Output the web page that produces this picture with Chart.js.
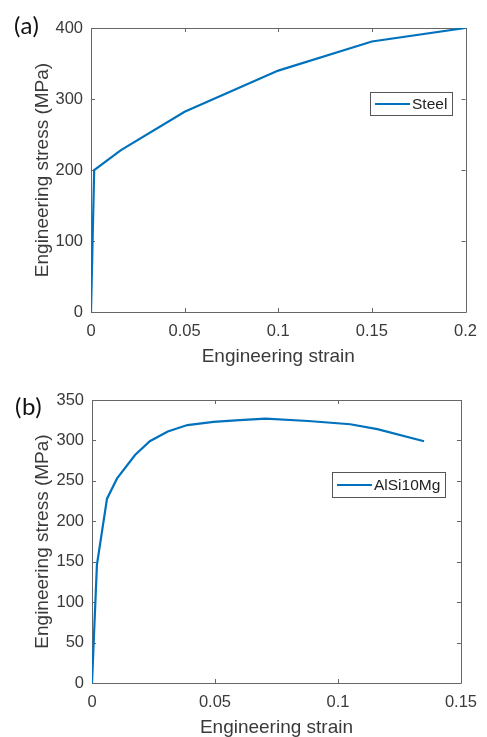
<!DOCTYPE html>
<html>
<head>
<meta charset="utf-8">
<script src="https://cdn.jsdelivr.net/npm/chart.js@4.4.1/dist/chart.umd.min.js"></script>
<style>
  html, body { margin: 0; padding: 0; background: #fff; overflow: hidden; }
  body { width: 487px; height: 737px; position: relative; }
  .panel { position: absolute; left: 0; width: 487px; }
  .tag { position: absolute; font-family: Lato, "Noto Sans", sans-serif; font-size: 24px; line-height: 1; color: #111; letter-spacing: 0.5px; }
</style>
</head>
<body>
<div class="panel" style="top:0"><canvas id="chartA" width="487" height="370"></canvas></div>
<div class="panel" style="top:370px"><canvas id="chartB" width="487" height="371"></canvas></div>
<div class="tag" style="left:14px; top:13px">(a)</div>
<div class="tag" style="left:15px; top:394px">(b)</div>
<script>
// (a) steel
const steelStrain = [0, 0.0017, 0.016, 0.05, 0.1, 0.15, 0.2];
const steelStress = [0, 200, 228, 282, 340, 381, 400];
const steelXTicks = [0, 0.05, 0.1, 0.15, 0.2];
const steelYTicks = [0, 100, 200, 300, 400];

// (b) AlSi10Mg
const alStrain = [0, 0.002, 0.0061, 0.0102, 0.0175, 0.0235, 0.0308, 0.0388, 0.0494, 0.060, 0.0706, 0.0879, 0.105, 0.116, 0.135];
const alStress = [0, 146, 228, 253, 282, 299, 311, 319, 323, 325, 327, 324, 320, 314, 299];
const alXTicks = [0, 0.05, 0.1, 0.15];
const alYTicks = [0, 50, 100, 150, 200, 250, 300, 350];

const FONT = '"Liberation Sans", Arial, sans-serif';
const TEXT = '#3a3a3a';
const AXIS = '#666';
const BLUE = '#0072BD';

const fmt = v => String(parseFloat(Number(v).toFixed(4)));

// box round the plot with inward ticks on all four sides
const matlabAxes = {
  id: 'matlabAxes',
  beforeDatasetsDraw(chart) {
    const { ctx, chartArea: a, scales: { x, y } } = chart;
    const tl = 4;
    ctx.save();
    ctx.strokeStyle = AXIS;
    ctx.lineWidth = 1;
    ctx.beginPath();
    ctx.rect(Math.round(a.left) + 0.5, Math.round(a.top) + 0.5,
             Math.round(a.right - a.left), Math.round(a.bottom - a.top));
    x.ticks.forEach(t => {
      const px = Math.round(x.getPixelForValue(t.value)) + 0.5;
      ctx.moveTo(px, a.bottom); ctx.lineTo(px, a.bottom - tl);
      ctx.moveTo(px, a.top); ctx.lineTo(px, a.top + tl);
    });
    y.ticks.forEach(t => {
      const py = Math.round(y.getPixelForValue(t.value)) + 0.5;
      ctx.moveTo(a.left, py); ctx.lineTo(a.left + tl, py);
      ctx.moveTo(a.right, py); ctx.lineTo(a.right - tl, py);
    });
    ctx.stroke();
    ctx.restore();
  }
};

// legend box inside the plot, top right
const boxLegend = {
  id: 'boxLegend',
  afterDraw(chart, args, opts) {
    const { ctx, chartArea: a } = chart;
    const ds = chart.data.datasets[0];
    ctx.save();
    ctx.font = '15.5px ' + FONT;
    const tw = ctx.measureText(ds.label).width;
    const w = Math.round(5 + 35 + 2 + tw + 5), h = opts.h;
    const x0 = Math.round(a.right - opts.rightGap - w);
    const y0 = Math.round(a.top + opts.topGap);
    ctx.fillStyle = '#fff';
    ctx.fillRect(x0, y0, w, h);
    ctx.strokeStyle = '#555';
    ctx.lineWidth = 1;
    ctx.strokeRect(x0 + 0.5, y0 + 0.5, w, h);
    ctx.strokeStyle = ds.borderColor;
    ctx.lineWidth = 2;
    ctx.beginPath();
    ctx.moveTo(x0 + 5, y0 + h / 2 + 0.5);
    ctx.lineTo(x0 + 40, y0 + h / 2 + 0.5);
    ctx.stroke();
    ctx.fillStyle = '#222';
    ctx.textBaseline = 'middle';
    ctx.fillText(ds.label, x0 + 42, y0 + h / 2 + 1);
    ctx.restore();
  }
};

function buildChart(id, strain, stress, label, xTicks, yTicks, lay, leg) {
  return new Chart(document.getElementById(id), {
    type: 'line',
    data: {
      datasets: [{
        label: label,
        data: strain.map((x, i) => ({ x: x, y: stress[i] })),
        borderColor: BLUE,
        borderWidth: 2.2,
        pointRadius: 0,
        tension: 0,
        fill: false
      }]
    },
    options: {
      responsive: false,
      animation: false,
      layout: { padding: { top: lay.top, right: lay.right, left: 0, bottom: 0 } },
      plugins: {
        legend: { display: false },
        tooltip: { enabled: false },
        boxLegend: leg
      },
      scales: {
        x: {
          type: 'linear',
          min: xTicks[0],
          max: xTicks[xTicks.length - 1],
          grid: { display: false, drawTicks: false, tickLength: 0 },
          border: { display: false },
          afterBuildTicks: s => { s.ticks = xTicks.map(v => ({ value: v })); },
          afterFit: s => { s.height = lay.xH; },
          ticks: { color: TEXT, padding: 10, maxRotation: 0, autoSkip: false,
                   font: { family: FONT, size: 16.5 }, callback: fmt },
          title: { display: true, text: 'Engineering strain', color: TEXT,
                   font: { family: FONT, size: 19 }, padding: { top: 0, bottom: 2 } }
        },
        y: {
          type: 'linear',
          min: yTicks[0],
          max: yTicks[yTicks.length - 1],
          grid: { display: false, drawTicks: false, tickLength: 0 },
          border: { display: false },
          afterBuildTicks: s => { s.ticks = yTicks.map(v => ({ value: v })); },
          afterFit: s => { s.width = lay.yW; },
          ticks: { color: TEXT, padding: 8, autoSkip: false,
                   font: { family: FONT, size: 16.5 }, callback: fmt },
          title: { display: true, text: 'Engineering stress (MPa)', color: TEXT,
                   font: { family: FONT, size: 19 }, padding: { top: 31, bottom: 0 } }
        }
      }
    },
    plugins: [matlabAxes, boxLegend]
  });
}

buildChart('chartA', steelStrain, steelStress, 'Steel', steelXTicks, steelYTicks,
  { top: 28, right: 19, xH: 58, yW: 91 },
  { rightGap: 14, topGap: 64, h: 23 });

buildChart('chartB', alStrain, alStress, 'AlSi10Mg', alXTicks, alYTicks,
  { top: 30, right: 18, xH: 58, yW: 92 },
  { rightGap: 16, topGap: 72, h: 25 });
</script>
</body>
</html>
